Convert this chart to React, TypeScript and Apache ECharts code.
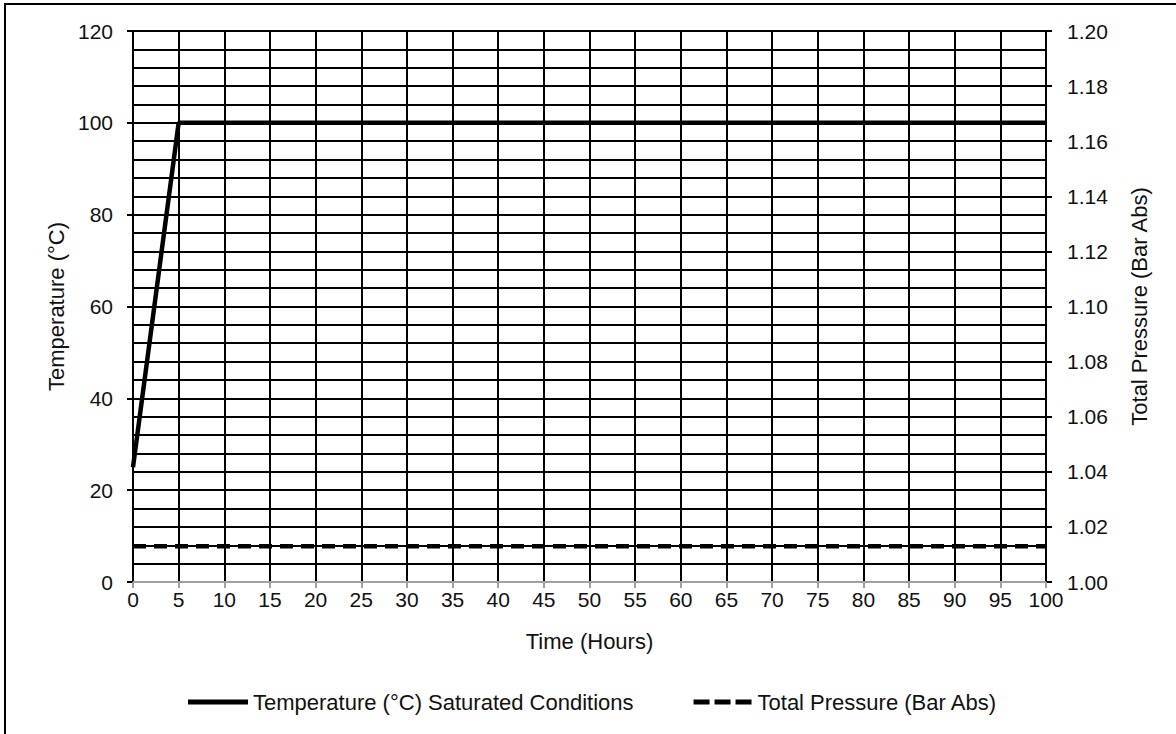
import React, { useEffect, useRef } from "react";
import * as echarts from "echarts";

// Time axis (hours) and the two measured series
const tempTime: number[] = [0, 5, 100];
const tempValues: number[] = [25, 100, 100];
const pressureTime: number[] = [0, 100];
const pressureValues: number[] = [1.013, 1.013];

const seriesNames: string[] = [
  "Temperature (°C) Saturated Conditions",
  "Total Pressure (Bar Abs)",
];

const TEXT = "#111111";
const FONT = "Liberation Sans, Arial, sans-serif";
const GRID_W = 2;

// Legend swatches: a solid bar and a three-dash bar
const SOLID_ICON = "path://M0,0h60v5h-60z";
const DASH_ICON = "path://M0,0h16v5h-16z M21,0h16v5h-16z M42,0h16v5h-16z";

export default function App() {
  const ref = useRef<HTMLDivElement>(null);

  useEffect(() => {
    if (!ref.current) return;
    const chart = echarts.init(ref.current, undefined, { renderer: "svg" });

    const tempData = tempTime.map((t, i) => [t, tempValues[i]]);
    const pressureData = pressureTime.map((t, i) => [t, pressureValues[i]]);

    chart.setOption({
      animation: false,
      backgroundColor: "#ffffff",
      textStyle: { fontFamily: FONT, color: TEXT },
      grid: { left: 133, top: 31, width: 913, height: 551, containLabel: false },
      graphic: [
        {
          type: "rect",
          shape: { x: 5, y: 4, width: 1300, height: 900 },
          style: { fill: "none", stroke: "#000", lineWidth: 2 },
          silent: true,
        },
      ],
      legend: {
        left: 183,
        top: 686,
        itemWidth: 60,
        itemHeight: 5,
        itemGap: 60,
        data: [
          { name: seriesNames[0], icon: SOLID_ICON },
          { name: seriesNames[1], icon: DASH_ICON },
        ],
        itemStyle: { color: "#000", borderWidth: 0 },
        lineStyle: { width: 0 },
        textStyle: { fontSize: 22, color: TEXT, fontFamily: FONT },
      },
      xAxis: {
        type: "value",
        min: 0,
        max: 100,
        interval: 5,
        name: "Time (Hours)",
        nameLocation: "middle",
        nameGap: 48,
        nameTextStyle: { fontSize: 22, color: TEXT, fontFamily: FONT },
        axisLine: { show: true, onZero: false, lineStyle: { color: "#a0a0a0", width: 2 } },
        axisTick: { show: true, length: 6, lineStyle: { color: "#a0a0a0", width: 2 } },
        axisLabel: { fontSize: 21, color: TEXT, margin: 7, fontFamily: FONT },
        splitLine: { show: true, lineStyle: { color: "#000", width: GRID_W } },
      },
      yAxis: [
        {
          type: "value",
          min: 0,
          max: 120,
          interval: 20,
          name: "Temperature (°C)",
          nameLocation: "middle",
          nameRotate: 90,
          nameGap: 55,
          nameTextStyle: { fontSize: 22, color: TEXT, fontFamily: FONT },
          axisLine: { show: true, lineStyle: { color: "#000", width: GRID_W } },
          axisTick: { show: true, length: 6, lineStyle: { color: "#000", width: GRID_W } },
          axisLabel: { fontSize: 21, color: TEXT, margin: 20, fontFamily: FONT },
          splitLine: {
            show: true,
            lineStyle: {
              color: ["#a0a0a0", "#000", "#000", "#000", "#000", "#000", "#000"],
              width: GRID_W,
            },
          },
          minorTick: { show: false, splitNumber: 5 },
          minorSplitLine: { show: true, lineStyle: { color: "#000", width: GRID_W } },
        },
        {
          type: "value",
          position: "right",
          min: 1.0,
          max: 1.2,
          interval: 0.02,
          name: "Total Pressure (Bar Abs)",
          nameLocation: "middle",
          nameRotate: 90,
          nameGap: 82,
          nameTextStyle: { fontSize: 22, color: TEXT, fontFamily: FONT },
          axisLine: { show: true, lineStyle: { color: "#000", width: GRID_W } },
          axisTick: { show: true, length: 6, lineStyle: { color: "#000", width: GRID_W } },
          axisLabel: {
            fontSize: 21,
            color: TEXT,
            margin: 21,
            fontFamily: FONT,
            formatter: (v: number) => v.toFixed(2),
          },
          splitLine: { show: false },
        },
      ],
      series: [
        {
          name: seriesNames[0],
          type: "line",
          data: tempData,
          yAxisIndex: 0,
          showSymbol: false,
          symbol: "none",
          lineStyle: { color: "#000", width: 4.5, cap: "butt" },
          itemStyle: { color: "#000" },
          z: 5,
        },
        {
          name: seriesNames[1],
          type: "line",
          data: pressureData,
          yAxisIndex: 1,
          showSymbol: false,
          symbol: "none",
          lineStyle: { color: "#000", width: 4.5, type: [13, 8], cap: "butt" },
          itemStyle: { color: "#000" },
          z: 5,
        },
      ],
    });

    return () => chart.dispose();
  }, []);

  return (
    <div
      ref={ref}
      style={{ position: "absolute", left: 0, top: 0, width: 1176, height: 734 }}
    />
  );
}
